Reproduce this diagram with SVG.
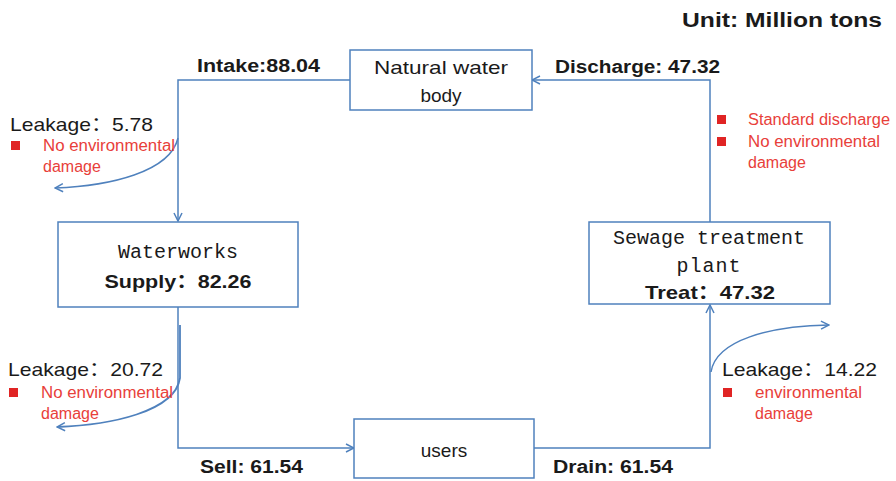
<svg xmlns="http://www.w3.org/2000/svg" width="896" height="481" viewBox="0 0 896 481">
<defs>
<style>
.box{fill:#fff;stroke:#4f81bd;stroke-width:1.5}
.ln{fill:none;stroke:#4f81bd;stroke-width:1.5}
.t{font-family:"Liberation Sans",Arial,"Noto Sans CJK SC",sans-serif;fill:#1a1a1a}
.b{font-weight:bold}
.m{font-family:"Liberation Mono","DejaVu Sans Mono",monospace;fill:#1a1a1a;font-size:20px}
.r{font-family:"Liberation Sans",Arial,sans-serif;fill:#e8403a;font-size:16px}
.sq{fill:#e02424}
</style>
<marker id="ah" viewBox="0 0 10 10" refX="9" refY="5" markerWidth="10" markerHeight="10" markerUnits="userSpaceOnUse" orient="auto">
<path d="M1,1 L9,5 L1,9" fill="none" stroke="#4f81bd" stroke-width="1.5"/>
</marker>
</defs>
<rect width="896" height="481" fill="#fff"/>

<g id="connectors">
<path class="ln" d="M350,80 L178,80 L178,221" marker-end="url(#ah)"/>
<path class="ln" d="M178,307 L178,448 L354,448" marker-end="url(#ah)"/>
<path class="ln" d="M534,448 L710,448 L710,305" marker-end="url(#ah)"/>
<path class="ln" d="M710,222 L710,80 L532,80" marker-end="url(#ah)"/>
<path class="ln" d="M178,138 C170,172 110,186 55,188" marker-end="url(#ah)"/>
<path class="ln" d="M180,325 L180,378 C175,412 110,425 57,427" marker-end="url(#ah)" style="stroke-width:1.8"/>
<path class="ln" d="M711,372 C716,340 770,326 829,325" marker-end="url(#ah)"/>
</g>

<g id="node-natural">
<rect class="box" x="350" y="50" width="182" height="60"/>
<text class="t" x="441" y="74" font-size="19" text-anchor="middle" textLength="134" lengthAdjust="spacingAndGlyphs">Natural water</text>
<text class="t" x="441" y="102" font-size="19" text-anchor="middle">body</text>
</g>

<g id="node-waterworks">
<rect class="box" x="58" y="222" width="240" height="85"/>
<text class="m" x="178" y="258" text-anchor="middle">Waterworks</text>
<text class="t b" x="178" y="288" font-size="19" text-anchor="middle" textLength="147" lengthAdjust="spacingAndGlyphs">Supply：82.26</text>
</g>

<g id="node-sewage">
<rect class="box" x="589" y="222" width="241" height="82"/>
<text class="m" x="709" y="244" text-anchor="middle">Sewage treatment</text>
<text class="m" x="709" y="272" text-anchor="middle" letter-spacing="1">plant</text>
<text class="t b" x="710" y="299" font-size="19" text-anchor="middle" textLength="130" lengthAdjust="spacingAndGlyphs">Treat：47.32</text>
</g>

<g id="node-users">
<rect class="box" x="354" y="419" width="180" height="59"/>
<text class="t" x="444" y="457" font-size="19" text-anchor="middle">users</text>
</g>

<g id="labels">
<text class="t b" x="882" y="27" font-size="20" text-anchor="end" textLength="200" lengthAdjust="spacingAndGlyphs">Unit: Million tons</text>
<text class="t b" x="197" y="72" font-size="18" textLength="123" lengthAdjust="spacingAndGlyphs">Intake:88.04</text>
<text class="t b" x="555" y="73" font-size="18" textLength="165" lengthAdjust="spacingAndGlyphs">Discharge: 47.32</text>
<text class="t b" x="200" y="473" font-size="18" textLength="103" lengthAdjust="spacingAndGlyphs">Sell: 61.54</text>
<text class="t b" x="553" y="473" font-size="18" textLength="120" lengthAdjust="spacingAndGlyphs">Drain: 61.54</text>

<text class="t" x="10" y="131" font-size="19" textLength="143" lengthAdjust="spacingAndGlyphs">Leakage：5.78</text>
<rect class="sq" x="11" y="141" width="9" height="9"/>
<text class="r" x="43" y="151" textLength="132" lengthAdjust="spacingAndGlyphs">No environmental</text>
<text class="r" x="43" y="172">damage</text>

<rect class="sq" x="717" y="115" width="9" height="9"/>
<text class="r" x="748" y="125" textLength="142" lengthAdjust="spacingAndGlyphs">Standard discharge</text>
<rect class="sq" x="717" y="137" width="9" height="9"/>
<text class="r" x="748" y="147" textLength="132" lengthAdjust="spacingAndGlyphs">No environmental</text>
<text class="r" x="748" y="168">damage</text>

<text class="t" x="8" y="376" font-size="19" textLength="155" lengthAdjust="spacingAndGlyphs">Leakage：20.72</text>
<rect class="sq" x="9" y="388" width="9" height="9"/>
<text class="r" x="41" y="398" textLength="132" lengthAdjust="spacingAndGlyphs">No environmental</text>
<text class="r" x="41" y="419">damage</text>

<text class="t" x="722" y="376" font-size="19" textLength="155" lengthAdjust="spacingAndGlyphs">Leakage：14.22</text>
<rect class="sq" x="723" y="388" width="9" height="9"/>
<text class="r" x="755" y="398" textLength="107" lengthAdjust="spacingAndGlyphs">environmental</text>
<text class="r" x="755" y="419">damage</text>
</g>
</svg>
